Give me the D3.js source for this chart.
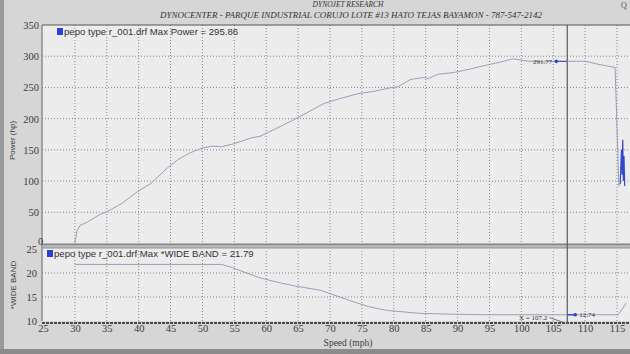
<!DOCTYPE html>
<html>
<head>
<meta charset="utf-8">
<script src="https://cdn.jsdelivr.net/npm/d3@7"></script>
<style>
  body { margin: 0; background: #d3d3d3; overflow: hidden; }
  svg { display: block; }
</style>
</head>
<body>
<div id="chart"></div>
<script>
const width = 630;
const height = 354;

// power run (mph, hp)
const powerSpeed = [30, 30.3, 30.8, 31.9, 33.5, 35, 35.8, 37.6, 39.8, 41.9, 44.5, 46.1, 48, 50, 51.5, 53, 55, 57.6, 59.1, 61.5, 64.1, 66.5, 69, 71.5, 74.4, 77, 79.3, 80.6, 82.7, 84.8, 85.4, 86.9, 89.5, 92.2, 94.2, 96.5, 98.7, 101.1, 103.5, 105.6, 107.4, 110, 112.1, 114.7, 115.3];
const powerHp = [0, 19, 29, 34, 44, 51, 55, 66, 83, 96, 121, 134, 145, 153, 156, 155, 160, 169, 172, 184, 197, 210, 224, 232, 240, 244, 249, 251, 263, 266, 264, 271, 274, 280, 285, 290, 295.9, 292, 291, 292, 291.8, 292, 287, 282, 91];
// noisy tail after the run (drawn in blue)
const tailSpeed = [115.5, 115.7, 115.8, 115.9, 116.0, 116.1, 116.2];
const tailHp = [95, 150, 110, 166, 100, 140, 92];

// air/fuel (wide band)
const wbSpeed = [30, 53, 54.5, 56.5, 59, 62, 64.5, 68.5, 70, 73.7, 76, 79, 84, 89.5, 95, 115.2, 116.5];
const wbValue = [21.79, 21.79, 21.2, 20.2, 19.0, 18.0, 17.3, 16.4, 15.7, 14.0, 13.0, 12.2, 11.6, 11.4, 11.3, 11.3, 13.8];

const speedTicks = d3.range(25, 116, 5);
const powerTicks = [0, 50, 100, 150, 200, 250, 300, 350];
const wbTicks = [10, 15, 20, 25];

const cursorSpeed = 107.2;
const cursorPower = 291.77;
const cursorWb = 12.74;
const maxPower = 295.86;
const maxWb = 21.79;

const serif = "'Liberation Serif', 'DejaVu Serif', serif";
const sans = "'Liberation Sans', Arial, sans-serif";
const ink = "#3b3b3b";

const svg = d3.select("#chart").append("svg")
  .attr("width", width).attr("height", height)
  .attr("viewBox", `0 0 ${width} ${height}`);

const x = d3.scaleLinear().domain([25, 115]).range([43, 617]);
const yPow = d3.scaleLinear().domain([0, 350]).range([243.5, 25]);
const yWb = d3.scaleLinear().domain([10, 25]).range([321, 249]);

const plotLeft = 42;

// background: paper look of the photo
svg.append("rect").attr("width", width).attr("height", height).attr("fill", "#d6d6d6");
svg.append("rect").attr("x", 0).attr("width", 4).attr("height", height).attr("fill", "#9a9a9a");
svg.append("rect").attr("y", 349).attr("width", width).attr("height", 5).attr("fill", "#8c8c8c");

// plot panels
svg.append("rect").attr("x", plotLeft).attr("y", yPow(350))
  .attr("width", width - plotLeft).attr("height", yPow(0) - yPow(350))
  .attr("fill", "#ececec");
svg.append("rect").attr("x", plotLeft).attr("y", yWb(25))
  .attr("width", width - plotLeft).attr("height", yWb(10) - yWb(25))
  .attr("fill", "#ececec");

// gridlines
const grid = svg.append("g").attr("stroke", "#7c7c7c").attr("stroke-width", 0.9)
  .attr("stroke-dasharray", "1,2");
grid.selectAll(".vgTop").data(speedTicks.slice(1)).join("line")
  .attr("class", "vgTop")
  .attr("x1", d => x(d)).attr("x2", d => x(d))
  .attr("y1", yPow(350)).attr("y2", yPow(0));
grid.selectAll(".vgBot").data(speedTicks.slice(1)).join("line")
  .attr("class", "vgBot")
  .attr("x1", d => x(d)).attr("x2", d => x(d))
  .attr("y1", yWb(25) + 2).attr("y2", yWb(10));
grid.selectAll(".hgTop").data(powerTicks.slice(1, -1)).join("line")
  .attr("class", "hgTop")
  .attr("x1", plotLeft).attr("x2", width)
  .attr("y1", d => yPow(d)).attr("y2", d => yPow(d));
grid.selectAll(".hgBot").data([15, 20]).join("line")
  .attr("class", "hgBot")
  .attr("x1", plotLeft).attr("x2", width)
  .attr("y1", d => yWb(d)).attr("y2", d => yWb(d));

// frames
svg.append("line").attr("x1", plotLeft).attr("x2", width)
  .attr("y1", yPow(350)).attr("y2", yPow(350)).attr("stroke", "#555").attr("stroke-width", 1);
svg.append("line").attr("x1", plotLeft).attr("x2", plotLeft)
  .attr("y1", yPow(350)).attr("y2", yWb(10)).attr("stroke", "#777").attr("stroke-width", 1.2);
svg.append("line").attr("x1", plotLeft).attr("x2", width)
  .attr("y1", 244.5).attr("y2", 244.5).attr("stroke", "#8a8a8a").attr("stroke-width", 2);
svg.append("line").attr("x1", plotLeft).attr("x2", width)
  .attr("y1", 247.5).attr("y2", 247.5).attr("stroke", "#a5a5a5").attr("stroke-width", 2);
svg.append("line").attr("x1", plotLeft).attr("x2", width)
  .attr("y1", yWb(10) + 2).attr("y2", yWb(10) + 2)
  .attr("stroke", "#4a4a4a").attr("stroke-width", 2).attr("stroke-dasharray", "3,1");

// cursor line
svg.append("line").attr("x1", x(cursorSpeed)).attr("x2", x(cursorSpeed))
  .attr("y1", yPow(350)).attr("y2", yWb(10) + 3)
  .attr("stroke", "#5a5a5a").attr("stroke-width", 1.2);

// axes
const tickText = (g, size) => {
  g.select(".domain").remove();
  g.selectAll(".tick line").remove();
  g.selectAll("text").attr("fill", ink).style("font-family", serif).style("font-size", size);
};

svg.append("g").attr("transform", `translate(39,0)`)
  .call(d3.axisLeft(yPow).tickValues(powerTicks).tickSize(0).tickPadding(0))
  .call(g => tickText(g, "10.5px"))
  // the "0" sits tucked up against the frame, right of the "25" below it
  .call(g => g.selectAll(".tick").filter(d => d === 0).select("text")
    .attr("text-anchor", "start").attr("x", -1).attr("dy", "0.05em"));
svg.append("g").attr("transform", `translate(37,0)`)
  .call(d3.axisLeft(yWb).tickValues(wbTicks).tickSize(0).tickPadding(0))
  .call(g => tickText(g, "10.5px"));
svg.append("g").attr("transform", `translate(0,${yWb(10) + 1})`)
  .call(d3.axisBottom(x).tickValues(speedTicks).tickSize(0).tickPadding(3))
  .call(g => tickText(g, "10.5px"));

// axis titles
svg.append("text").attr("transform", `translate(15,${yPow(165)}) rotate(-90)`)
  .attr("text-anchor", "middle").attr("fill", ink)
  .style("font-family", sans).style("font-size", "8px").text("Power (hp)");
svg.append("text").attr("transform", `translate(16,${yWb(17.5)}) rotate(-90)`)
  .attr("text-anchor", "middle").attr("fill", ink)
  .style("font-family", sans).style("font-size", "8px").text("*WIDE BAND");
svg.append("text").attr("x", 348).attr("y", 346).attr("text-anchor", "middle").attr("fill", ink)
  .style("font-family", serif).style("font-size", "9.5px").text("Speed (mph)");

// titles
svg.append("text").attr("x", 348).attr("y", 7).attr("text-anchor", "middle").attr("fill", "#333")
  .style("font-family", serif).style("font-style", "italic").style("font-size", "7.5px")
  .text("DYNOJET RESEARCH");
svg.append("text").attr("x", 351).attr("y", 17.5).attr("text-anchor", "middle").attr("fill", "#333")
  .style("font-family", serif).style("font-style", "italic").style("font-size", "9px")
  .text("DYNOCENTER - PARQUE INDUSTRIAL CORUJO LOTE #13 HATO TEJAS BAYAMON - 787-547-2142");
svg.append("text").attr("x", 621).attr("y", 8).attr("fill", "#555")
  .style("font-family", serif).style("font-size", "8px").text("Q");

// curves
const line = (ys) => d3.line().x(d => x(d[0])).y(d => ys(d[1]));
const powerPts = d3.zip(powerSpeed, powerHp);
const tailPts = d3.zip(tailSpeed, tailHp);
const wbPts = d3.zip(wbSpeed, wbValue);

svg.append("path").datum(powerPts).attr("d", line(yPow))
  .attr("fill", "none").attr("stroke", "#9294b4").attr("stroke-width", 0.9);
svg.append("path").datum(tailPts).attr("d", line(yPow))
  .attr("fill", "none").attr("stroke", "#3348c8").attr("stroke-width", 1.2);
svg.append("path").datum(wbPts).attr("d", line(yWb))
  .attr("fill", "none").attr("stroke", "#9294b4").attr("stroke-width", 0.9);

// legends
const legend = (xLeft, yTop, label) => {
  svg.append("rect").attr("x", xLeft).attr("y", yTop).attr("width", 6).attr("height", 7)
    .attr("fill", "#2c40d2");
  svg.append("text").attr("x", xLeft + 7).attr("y", yTop + 7).attr("fill", "#333")
    .style("font-family", sans).style("font-size", "9.6px").text(label);
};
legend(57, 28, `pepo type r_001.drf Max Power = ${maxPower}`);
legend(47, 250, `pepo type r_001.drf Max *WIDE BAND = ${maxWb}`);

// cursor readouts
const interp = (xs, ys, v) => {
  const i = d3.bisectLeft(xs, v);
  const t = (v - xs[i - 1]) / (xs[i] - xs[i - 1]);
  return ys[i - 1] + t * (ys[i] - ys[i - 1]);
};
const cx = x(cursorSpeed);
const pDotX = cx - 11;
svg.append("line").attr("x1", pDotX).attr("x2", cx).attr("y1", yPow(cursorPower)).attr("y2", yPow(cursorPower))
  .attr("stroke", "#3348c8").attr("stroke-width", 1);
svg.append("circle").attr("cx", pDotX).attr("cy", yPow(cursorPower)).attr("r", 1.8).attr("fill", "#2c40d2");
svg.append("text").attr("x", pDotX - 4).attr("y", yPow(cursorPower) + 2.5).attr("text-anchor", "end")
  .attr("fill", "#333").style("font-family", serif).style("font-size", "7px").text(cursorPower);

const wbY = yWb(interp(wbSpeed, wbValue, cursorSpeed));
svg.append("line").attr("x1", cx).attr("x2", cx + 8).attr("y1", wbY).attr("y2", wbY)
  .attr("stroke", "#2c40d2").attr("stroke-width", 1.4);
svg.append("circle").attr("cx", cx + 8).attr("cy", wbY).attr("r", 1.8).attr("fill", "#2c40d2");
svg.append("text").attr("x", cx + 12).attr("y", wbY + 2.5)
  .attr("fill", "#333").style("font-family", serif).style("font-size", "7px").text(cursorWb);

svg.append("text").attr("x", cx - 20).attr("y", yWb(10) - 1.5).attr("text-anchor", "end")
  .attr("fill", "#333").style("font-family", serif).style("font-size", "7px").text(`X = ${cursorSpeed}`);
svg.append("line").attr("x1", cx - 18).attr("y1", yWb(10) - 3.5).attr("x2", cx - 2).attr("y2", yWb(10) + 2)
  .attr("stroke", "#555").attr("stroke-width", 0.8);
</script>
</body>
</html>
